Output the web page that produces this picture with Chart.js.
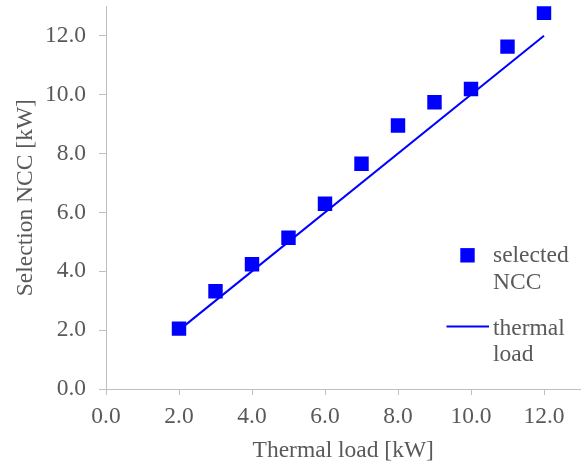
<!DOCTYPE html>
<html>
<head>
<meta charset="utf-8">
<script src="https://cdn.jsdelivr.net/npm/chart.js@4"></script>
<style>
  html, body { margin: 0; padding: 0; background: #fff; }
  #wrap { width: 584px; height: 469px; }
</style>
</head>
<body>
<div id="wrap"><canvas id="nccChart"></canvas></div>
<script>
// thermal load per case [kW] and the NCC size picked for it [kW]
const thermalLoad = [2, 3, 4, 5, 6, 7, 8, 9, 10, 11, 12];
const selectedNcc = [2.05, 3.32, 4.24, 5.14, 6.29, 7.65, 8.95, 9.74, 10.19, 11.63, 12.78];
// reference line y = x between the first and last load
const lineX = [2, 12];
const lineY = [2, 12];
const xTicks = [0, 2, 4, 6, 8, 10, 12];
const yTicks = [0, 2, 4, 6, 8, 10, 12];
const seriesNames = [['selected', 'NCC'], ['thermal', 'load']];

const BLUE = '#0000ff';
const GREY = '#595959';
const AXIS = '#bfbfbf';
const FONT = '"Liberation Serif", "Times New Roman", serif';
const FONT_SIZE = 23.5;

// legend drawn inside the plot, right side, with wrapped labels
const sideLegend = {
    id: 'sideLegend',
    afterDraw(chart) {
        const ctx = chart.ctx;
        const area = chart.chartArea;
        const textX = area.right - 87.5;
        const markX = textX - 25.5;
        const lineH = 26.5;
        ctx.save();
        ctx.font = FONT_SIZE + 'px ' + FONT;
        ctx.textBaseline = 'alphabetic';
        ctx.textAlign = 'left';

        // square marker item
        let y = 255.3;
        ctx.fillStyle = chart.data.datasets[0].backgroundColor;
        ctx.fillRect(markX - 7.2, y - 7.2, 14.4, 14.4);
        ctx.fillStyle = GREY;
        seriesNames[0].forEach((t, i) => ctx.fillText(t, textX, y + 7 + i * lineH));

        // line item
        y = 326.5;
        ctx.strokeStyle = chart.data.datasets[1].borderColor;
        ctx.lineWidth = 2;
        ctx.beginPath();
        ctx.moveTo(markX - 21, y);
        ctx.lineTo(markX + 21.5, y);
        ctx.stroke();
        seriesNames[1].forEach((t, i) => ctx.fillText(t, textX, y + 8 + i * lineH));
        ctx.restore();
    }
};

const axisCommon = (ticks, title, opts) => ({
    type: 'linear',
    min: 0,
    max: 13,
    afterBuildTicks: scale => { scale.ticks = ticks.map(v => ({ value: v })); },
    afterFit: scale => {
        // fixed axis band so the plot area lands where it should
        if (scale.isHorizontal()) scale.height = opts.band;
        else scale.width = opts.band;
        scale.paddingTop = 0;
        scale.paddingBottom = 0;
        scale.paddingLeft = 0;
        scale.paddingRight = 0;
    },
    grid: { drawOnChartArea: false, drawTicks: true, tickLength: opts.tick, color: AXIS },
    border: { color: AXIS, width: 1 },
    ticks: {
        color: GREY,
        font: { family: FONT, size: FONT_SIZE },
        padding: opts.pad,
        callback: v => Number(v).toFixed(1)
    },
    title: {
        display: true,
        text: title,
        color: GREY,
        font: { family: FONT, size: FONT_SIZE },
        padding: opts.titlePad
    }
});

new Chart(document.getElementById('nccChart').getContext('2d'), {
    type: 'scatter',
    data: {
        datasets: [{
            label: seriesNames[0].join(' '),
            data: thermalLoad.map((x, i) => ({ x, y: selectedNcc[i] })),
            pointStyle: 'rect',
            pointRadius: 10.2,
            pointHoverRadius: 10.2,
            backgroundColor: BLUE,
            borderColor: BLUE,
            borderWidth: 0,
            order: 0
        }, {
            type: 'line',
            label: seriesNames[1].join(' '),
            data: lineX.map((x, i) => ({ x, y: lineY[i] })),
            borderColor: BLUE,
            borderWidth: 2,
            pointRadius: 0,
            fill: false,
            order: 1
        }]
    },
    options: {
        responsive: true,
        maintainAspectRatio: false,
        animation: false,
        layout: { autoPadding: false, padding: { top: 6.3, right: 3.5, left: 0, bottom: 0 } },
        plugins: {
            legend: { display: false },
            tooltip: { enabled: false }
        },
        scales: {
            x: axisCommon(xTicks, 'Thermal load [kW]',
                { band: 80, tick: 6, pad: 7.8, titlePad: { top: 0, bottom: 4.4 } }),
            y: axisCommon(yTicks, 'Selection NCC [kW]',
                { band: 106, tick: 7, pad: 13, titlePad: { top: 11.9, bottom: 0 } })
        }
    },
    plugins: [sideLegend]
});
</script>
</body>
</html>
